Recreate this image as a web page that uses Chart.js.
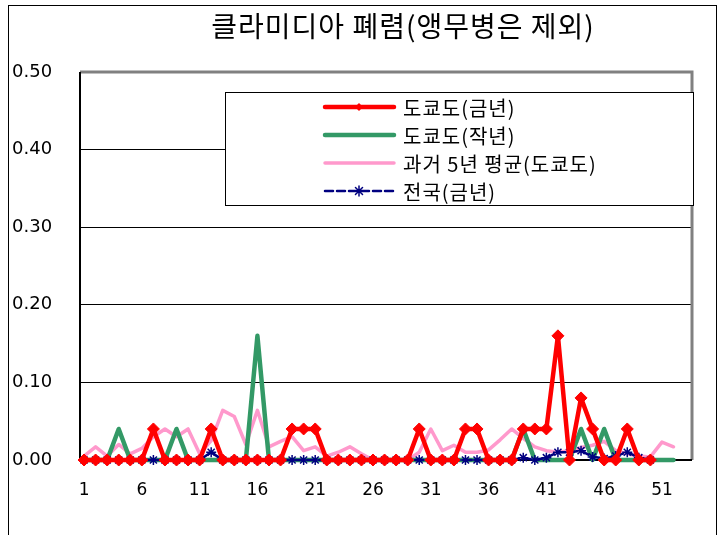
<!DOCTYPE html>
<html>
<head>
<meta charset="utf-8">
<script src="https://cdn.jsdelivr.net/npm/chart.js@4/dist/chart.umd.min.js"></script>
<style>
  html, body { margin: 0; padding: 0; background: #fff; }
  #wrap { width: 727px; height: 535px; }
</style>
</head>
<body>
<div id="wrap"><canvas id="chart"></canvas></div>
<script>
// data (weeks 1-52)
const weeks = [1, 2, 3, 4, 5, 6, 7, 8, 9, 10, 11, 12, 13, 14, 15, 16, 17, 18, 19, 20, 21, 22, 23, 24, 25, 26,
    27, 28, 29, 30, 31, 32, 33, 34, 35, 36, 37, 38, 39, 40, 41, 42, 43, 44, 45, 46, 47, 48, 49, 50, 51, 52];
const tokyoThisYear = [0, 0, 0, 0, 0, 0, 0.04, 0, 0, 0, 0, 0.04, 0, 0, 0, 0, 0, 0, 0.04, 0.04, 0.04, 0, 0, 0, 0, 0,
    0, 0, 0, 0.04, 0, 0, 0, 0.04, 0.04, 0, 0, 0, 0.04, 0.04, 0.04, 0.16, 0, 0.08, 0.04, 0, 0, 0.04, 0, 0];
const tokyoLastYear = [0, 0, 0, 0.04, 0, 0, 0, 0, 0.04, 0, 0, 0, 0, 0, 0, 0.16, 0, 0, 0, 0, 0, 0, 0, 0, 0, 0,
    0, 0, 0, 0, 0, 0, 0, 0, 0, 0, 0, 0, 0.04, 0, 0, 0, 0, 0.04, 0, 0.04, 0, 0, 0, 0, 0, 0];
const tokyoPast5 = [0.005, 0.017, 0.005, 0.02, 0.008, 0.015, 0.03, 0.04, 0.03, 0.04, 0.008, 0.025, 0.064, 0.056, 0.02, 0.064,
    0.017, 0.024, 0.03, 0.012, 0.017, 0.005, 0.01, 0.017, 0.008, 0, 0, 0, 0, 0.01, 0.04, 0.012, 0.019, 0.01, 0.01, 0.013,
    0.026, 0.04, 0.028, 0.017, 0.012, 0.01, 0.012, 0.016, 0.019, 0.024, 0.012, 0.008, 0.005, 0.004, 0.023, 0.017];
const nationThisYear = [0, 0, 0, 0, 0, 0, 0, 0, 0, 0, 0, 0.01, 0, 0, 0, 0, 0, 0, 0, 0, 0, 0, 0, 0, 0, 0,
    0, 0, 0, 0, 0, 0, 0, 0, 0, 0, 0, 0, 0.003, 0, 0.003, 0.01, 0.01, 0.012, 0.004, 0.002, 0.005, 0.01, 0.003, 0];
const xTicks = [1, 6, 11, 16, 21, 26, 31, 36, 41, 46, 51];
const seriesNames = ['도쿄도(금년)', '도쿄도(작년)', '과거 5년 평균(도쿄도)', '전국(금년)'];
const titleText = '클라미디아 폐렴(앵무병은 제외)';

const numFont = "'DejaVu Sans', sans-serif";
const krFont = "'Noto Sans CJK KR', sans-serif";

function toPoints(values) {
    return values.map((v, i) => ({ x: weeks[i], y: v }));
}

// frame, plot border, title and boxed legend
const decor = {
    id: 'decor',
    beforeDraw(chart) {
        const ctx = chart.ctx;
        ctx.save();
        ctx.fillStyle = '#fff';
        ctx.fillRect(0, 0, chart.width, chart.height);
        ctx.strokeStyle = '#000';
        ctx.lineWidth = 1;
        ctx.strokeRect(8.5, 5.5, 708, 540);
        ctx.fillStyle = '#000';
        ctx.font = '28px ' + krFont;
        ctx.letterSpacing = '1px';
        ctx.textAlign = 'center';
        ctx.textBaseline = 'middle';
        ctx.fillText(titleText, 403, 26);
        ctx.restore();
    },
    beforeDatasetsDraw(chart) {
        const a = chart.chartArea;
        const ctx = chart.ctx;
        ctx.save();
        ctx.strokeStyle = '#808080';
        ctx.lineWidth = 3;
        ctx.beginPath();
        ctx.moveTo(a.left, a.top);
        ctx.lineTo(a.right, a.top);
        ctx.lineTo(a.right, a.bottom);
        ctx.stroke();
        ctx.strokeStyle = '#000';
        ctx.lineWidth = 2;
        ctx.beginPath();
        ctx.moveTo(a.left, a.top);
        ctx.lineTo(a.left, a.bottom);
        ctx.lineTo(a.right, a.bottom);
        ctx.stroke();
        ctx.restore();
    },
    afterDraw(chart) {
        const ctx = chart.ctx;
        ctx.save();
        ctx.fillStyle = '#fff';
        ctx.fillRect(225, 92, 468, 113);
        ctx.strokeStyle = '#000';
        ctx.lineWidth = 1;
        ctx.strokeRect(225.5, 92.5, 468, 113);
        const rows = [107, 135, 163, 191];
        ctx.font = '20px ' + krFont;
        ctx.letterSpacing = '1px';
        ctx.textBaseline = 'middle';
        ctx.textAlign = 'left';
        chart.data.datasets.forEach((ds, i) => {
            const y = rows[i];
            ctx.strokeStyle = ds.borderColor;
            ctx.lineWidth = ds.borderWidth;
            ctx.lineCap = 'round';
            ctx.setLineDash(ds.borderDash || []);
            ctx.beginPath();
            ctx.moveTo(325, y);
            ctx.lineTo(394, y);
            ctx.stroke();
            ctx.setLineDash([]);
            if (ds.pointStyle === 'rectRot') {
                ctx.fillStyle = ds.pointBackgroundColor;
                ctx.beginPath();
                ctx.moveTo(359, y - 4);
                ctx.lineTo(363, y);
                ctx.lineTo(359, y + 4);
                ctx.lineTo(355, y);
                ctx.closePath();
                ctx.fill();
            } else if (ds.pointStyle === 'star') {
                ctx.lineWidth = 1.5;
                ctx.beginPath();
                for (let k = 0; k < 4; k++) {
                    const ang = k * Math.PI / 4;
                    ctx.moveTo(359 - 5 * Math.cos(ang), y - 5 * Math.sin(ang));
                    ctx.lineTo(359 + 5 * Math.cos(ang), y + 5 * Math.sin(ang));
                }
                ctx.stroke();
            }
            ctx.fillStyle = '#000';
            ctx.fillText(ds.label, 403, y + 1);
        });
        ctx.restore();
    }
};

const chart = new Chart(document.getElementById('chart').getContext('2d'), {
    type: 'line',
    data: {
        datasets: [{
            label: seriesNames[0],
            data: toPoints(tokyoThisYear),
            borderColor: '#ff0000',
            backgroundColor: '#ff0000',
            borderWidth: 4.5,
            pointStyle: 'rectRot',
            pointRadius: 6,
            pointBackgroundColor: '#ff0000',
            pointBorderColor: '#ff0000',
            pointBorderWidth: 1,
            order: 0
        }, {
            label: seriesNames[1],
            data: toPoints(tokyoLastYear),
            borderColor: '#339966',
            backgroundColor: '#339966',
            borderWidth: 4.5,
            pointRadius: 0,
            order: 2
        }, {
            label: seriesNames[2],
            data: toPoints(tokyoPast5),
            borderColor: '#ff99cc',
            backgroundColor: '#ff99cc',
            borderWidth: 3.5,
            pointRadius: 0,
            order: 3
        }, {
            label: seriesNames[3],
            data: toPoints(nationThisYear),
            borderColor: '#000080',
            backgroundColor: '#000080',
            borderWidth: 2.5,
            borderDash: [8, 4],
            pointStyle: 'star',
            pointRadius: 5,
            pointBorderColor: '#000080',
            pointBorderWidth: 1.5,
            order: 1
        }]
    },
    options: {
        responsive: true,
        maintainAspectRatio: false,
        animation: false,
        clip: false,
        layout: { padding: { top: 72, right: 35, left: 12, bottom: 0 } },
        elements: { line: { tension: 0, borderJoinStyle: 'round', borderCapStyle: 'round' } },
        plugins: {
            legend: { display: false },
            title: { display: false },
            tooltip: { enabled: false }
        },
        scales: {
            x: {
                type: 'linear',
                min: 0.65,
                max: 53.6,
                grid: { display: false },
                border: { display: false },
                afterBuildTicks: (scale) => { scale.ticks = xTicks.map(v => ({ value: v })); },
                afterFit: (scale) => { scale.height = 75; },
                ticks: {
                    autoSkip: false,
                    maxRotation: 0,
                    padding: 12,
                    color: '#000',
                    font: { family: numFont, size: 17 }
                }
            },
            y: {
                min: 0,
                max: 0.5,
                grid: { color: '#000', lineWidth: 1, drawTicks: false },
                border: { display: false },
                afterFit: (scale) => { scale.width = 68; },
                ticks: {
                    stepSize: 0.1,
                    crossAlign: 'far',
                    color: '#000',
                    font: { family: numFont, size: 18 },
                    callback: (v) => v.toFixed(2)
                }
            }
        }
    },
    plugins: [decor]
});
</script>
</body>
</html>
